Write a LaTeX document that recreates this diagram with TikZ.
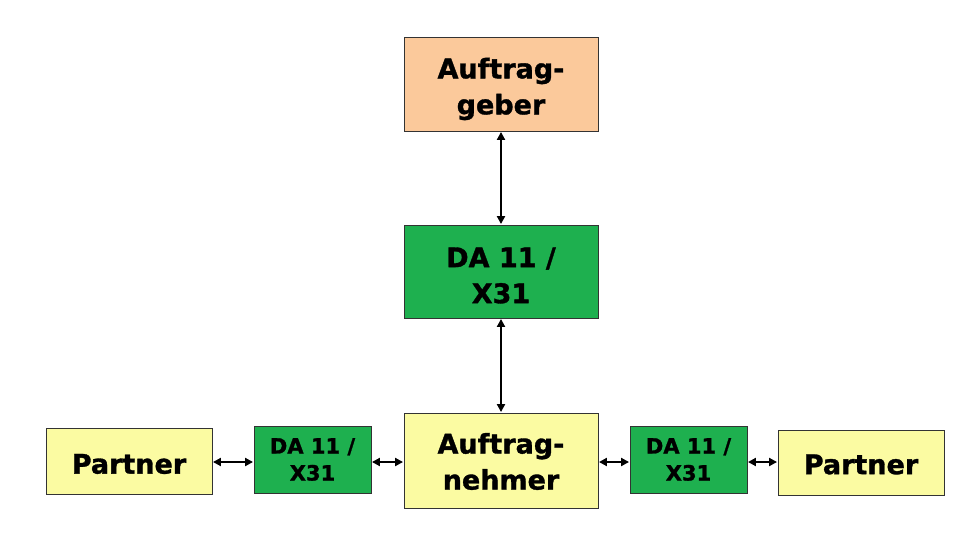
\documentclass[tikz,border=0pt]{standalone}
\usepackage{fontspec}
\setmainfont{DejaVu Sans}[BoldFeatures={FakeBold=1.2}]
\usetikzlibrary{arrows.meta}
\definecolor{peach}{HTML}{FBC99B}
\definecolor{dagreen}{HTML}{1EB04F}
\definecolor{paleyellow}{HTML}{FBFBA2}
\tikzset{
  box/.style={draw=black!80, line width=0.9pt, inner sep=0pt},
  bigtxt/.style={inner sep=0pt, align=center, font=\bfseries\fontsize{27}{36}\selectfont},
  smalltxt/.style={inner sep=0pt, align=center, font=\bfseries\fontsize{21}{27}\selectfont},
  link/.style={line width=2.4pt, {Triangle[length=8pt,width=8pt]}-{Triangle[length=8pt,width=8pt]}, shorten <=0.5pt, shorten >=0.5pt}
}
\begin{document}
\begin{tikzpicture}[x=1pt,y=-1pt]
\useasboundingbox[fill=white] (0,0) rectangle (960,557);
\node[box, fill=peach, minimum width=194pt, minimum height=94pt] (ag) at (501,84) {};
\node[box, fill=dagreen, minimum width=194pt, minimum height=93pt] (da) at (501,271.5) {};
\node[box, fill=paleyellow, minimum width=194pt, minimum height=95pt] (an) at (501,460.5) {};
\node[box, fill=paleyellow, minimum width=166pt, minimum height=66pt] (lp) at (129,461) {};
\node[box, fill=dagreen, minimum width=117pt, minimum height=67pt] (lda) at (312.5,459.5) {};
\node[box, fill=dagreen, minimum width=117pt, minimum height=67pt] (rda) at (688.5,459.5) {};
\node[box, fill=paleyellow, minimum width=166pt, minimum height=65pt] (rp) at (861,462.5) {};
\node[bigtxt] (agt) at ([yshift=-5pt]ag.center) {Auftrag-\\geber};
\node[bigtxt] (dat) at ([yshift=-4pt]da.center) {DA 11 /\\X31};
\node[bigtxt] (ant) at ([yshift=-1pt]an.center) {Auftrag-\\nehmer};
\node[bigtxt] (lpt) at ([yshift=-3pt]lp.center) {Partner};
\node[bigtxt] (rpt) at ([yshift=-2pt]rp.center) {Partner};
\node[smalltxt] (ldat) at ([yshift=0pt]lda.center) {DA 11 /\\X31};
\node[smalltxt] (rdat) at ([yshift=0pt]rda.center) {DA 11 /\\X31};
\coordinate (hy) at (0,462);
\draw[link] (ag.south) -- (da.north);
\draw[link] (da.south) -- (an.north);
\draw[link] (lp.east |- hy) -- (lda.west |- hy);
\draw[link] (lda.east |- hy) -- (an.west |- hy);
\draw[link] (an.east |- hy) -- (rda.west |- hy);
\draw[link] (rda.east |- hy) -- (rp.west |- hy);
\end{tikzpicture}
\end{document}
